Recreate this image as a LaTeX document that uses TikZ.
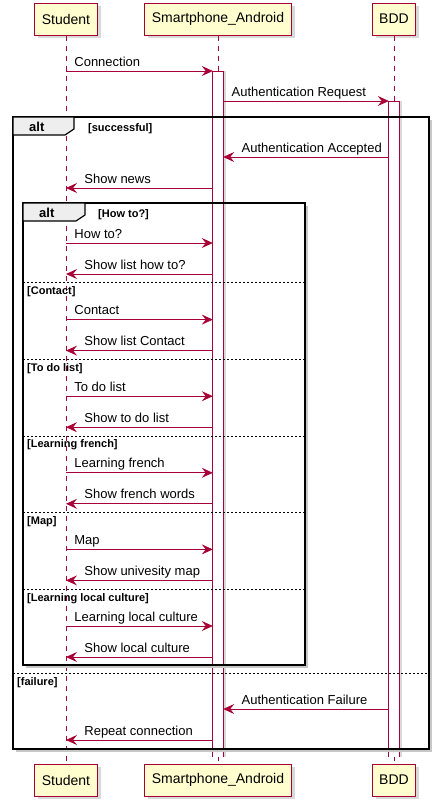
\documentclass[tikz,border=0pt]{standalone}
\usepackage{fontspec}
\setmainfont{Liberation Sans}
\usetikzlibrary{arrows.meta,shadows,positioning}
\definecolor{umlred}{HTML}{A80036}
\definecolor{umlfill}{HTML}{FEFECE}
\definecolor{tabgray}{HTML}{EEEEEE}

\tikzset{
  actor/.style={draw=umlred, fill=umlfill, line width=1pt, minimum height=32pt,
    inner sep=0pt, font=\fontsize{14}{16}\selectfont,
    drop shadow={shadow xshift=3pt, shadow yshift=-3pt, opacity=.3}},
  actbar/.style={fill=white, inner sep=0pt, minimum width=10pt, anchor=north,
    drop shadow={shadow xshift=3pt, shadow yshift=0pt, opacity=.3}},
  barside/.style={draw=umlred, line width=0.8pt},
  lifeline/.style={draw=umlred, line width=0.7pt, dash pattern=on 5pt off 5pt},
  msg/.style={draw=umlred, line width=0.8pt,
    -{Stealth[length=11pt, width=10pt, inset=4pt, fill=umlred]}},
  msgtext/.style={font=\fontsize{13}{15}\selectfont, anchor=base west, inner sep=0pt},
  frame/.style={draw=black, line width=1.5pt},
  frameshadow/.style={draw=black!22, line width=2pt},
  tab/.style={draw=black, fill=tabgray, line width=1.2pt},
  altlabel/.style={font=\bfseries\fontsize{13}{15}\selectfont, anchor=base west, inner sep=0pt},
  guard/.style={font=\bfseries\fontsize{11}{13}\selectfont, anchor=base west, inner sep=0pt},
  sep/.style={draw=black, line width=0.6pt, dash pattern=on 2pt off 2pt},
}

\begin{document}
\begin{tikzpicture}[x=1pt,y=-1pt]
  \useasboundingbox (0,0) rectangle (439,807);

  % participants, top and bottom
  \node[actor, minimum width=63pt] (stu) at (66,19) {Student};
  \node[actor, minimum width=147pt] (ph) at (218,19) {Smartphone\_Android};
  \node[actor, minimum width=43pt] (bdd) at (394,19) {BDD};
  \node[actor, minimum width=63pt] (stu-b) at (66,780) {Student};
  \node[actor, minimum width=147pt] (ph-b) at (218,780) {Smartphone\_Android};
  \node[actor, minimum width=43pt] (bdd-b) at (394,780) {BDD};

  \foreach \p in {stu,ph,bdd}
    \draw[lifeline] (\p.south) -- (\p-b.north);

  % activations
  \node[actbar, minimum height=686pt] (phbar) at (218,71) {};
  \node[actbar, minimum height=656pt] (bddbar) at (394,101) {};
  \foreach \b in {phbar,bddbar}
    \draw[barside] (\b.south west) -- (\b.north west) -- (\b.north east) -- (\b.south east);

  \draw[msg] (stu |- 0,71) -- (phbar.west |- 0,71)
    node[msgtext, at start, xshift=8pt, yshift=5pt] {Connection};
  \draw[msg] (phbar.east |- 0,101) -- (bddbar.west |- 0,101)
    node[msgtext, at start, xshift=8pt, yshift=5pt] {Authentication Request};

  % outer alt
  \draw[frameshadow] (431,120) -- (431,751) -- (16,751);
  \draw[frame] (13,117) rectangle (429,749);
  \draw[tab] (13,117) -- (74,117) -- (74,129) -- (65,135) -- (13,135) -- cycle;
  \node[altlabel] at (29,131) {alt};
  \node[guard] at (88,131) {[successful]};

  \draw[msg] (bddbar.west |- 0,157) -- (phbar.east |- 0,157)
    node[msgtext, at end, xshift=18pt, yshift=5pt] {Authentication Accepted};
  \draw[msg] (phbar.west |- 0,188) -- (stu |- 0,188)
    node[msgtext, at end, xshift=18pt, yshift=5pt] {Show news};

  % inner alt
  \draw[frameshadow] (307,206) -- (307,667) -- (26,667);
  \draw[frame] (23,203) rectangle (305,665);
  \draw[tab] (23,203) -- (85,203) -- (85,215) -- (76,221) -- (23,221) -- cycle;
  \node[altlabel] at (39,217) {alt};
  \node[guard] at (98,217) {[How to?]};

  \foreach \i/\gtxt/\qtxt/\atxt in {0/How to?/How to?/Show list how to?,
      1/Contact/Contact/Show list Contact,
      2/To do list/To do list/Show to do list,
      3/Learning french/Learning french/Show french words,
      4/Map/Map/Show univesity map,
      5/Learning local culture/Learning local culture/Show local culture}{
    \pgfmathsetmacro{\qy}{243+76.6*\i}
    \pgfmathsetmacro{\ay}{\qy+31}
    \draw[msg] (stu |- 0,\qy) -- (phbar.west |- 0,\qy)
      node[msgtext, at start, xshift=8pt, yshift=5pt] {\qtxt};
    \draw[msg] (phbar.west |- 0,\ay) -- (stu |- 0,\ay)
      node[msgtext, at end, xshift=18pt, yshift=5pt] {\atxt};
    \ifnum\i>0
      \pgfmathsetmacro{\sy}{\qy-37}
      \draw[sep] (23,\sy) -- (305,\sy);
      \node[guard] at (27,{\sy+12}) {[\gtxt]};
    \fi
  }

  % failure branch
  \draw[sep] (13,673) -- (429,673);
  \node[guard] at (17,685) {[failure]};
  \draw[msg] (bddbar.west |- 0,709) -- (phbar.east |- 0,709)
    node[msgtext, at end, xshift=18pt, yshift=5pt] {Authentication Failure};
  \draw[msg] (phbar.west |- 0,740) -- (stu |- 0,740)
    node[msgtext, at end, xshift=18pt, yshift=5pt] {Repeat connection};
\end{tikzpicture}
\end{document}
